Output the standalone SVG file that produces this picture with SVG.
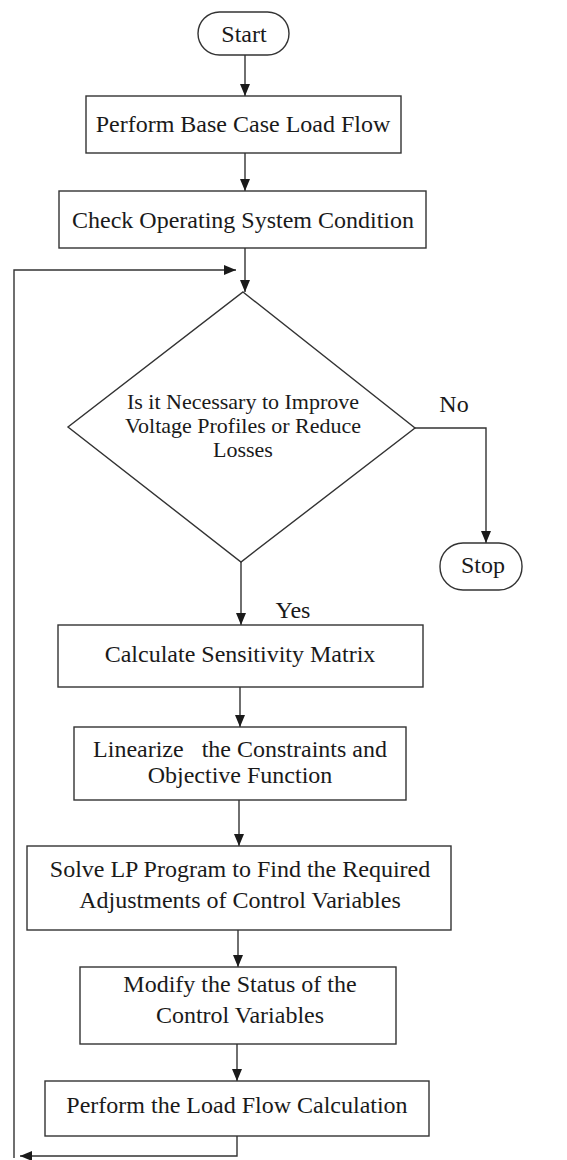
<svg xmlns="http://www.w3.org/2000/svg" width="567" height="1160" viewBox="0 0 567 1160">
<defs>
<style>
.n{fill:#fff;stroke:#333;stroke-width:1.4}
.t{font-family:"Liberation Serif","Times New Roman",serif;font-size:24px;fill:#1a1a1a;text-anchor:middle}
.d{font-size:22px}
.c{fill:none;stroke:#333;stroke-width:1.4}
</style>
<marker id="ah" viewBox="0 0 12 10" refX="12" refY="5" markerWidth="12" markerHeight="10" markerUnits="userSpaceOnUse" orient="auto">
<path d="M0,0 L12,5 L0,10 Z" fill="#1a1a1a"/>
</marker>
</defs>
<rect width="567" height="1160" fill="#fff"/>
<g id="connectors">
<path class="c" d="M245,55 V96" marker-end="url(#ah)"/>
<path class="c" d="M245,153 V191" marker-end="url(#ah)"/>
<path class="c" d="M245,248 V292" marker-end="url(#ah)"/>
<path class="c" d="M415,428 H486 V543" marker-end="url(#ah)"/>
<path class="c" d="M241,562 V625" marker-end="url(#ah)"/>
<path class="c" d="M240,687 V727" marker-end="url(#ah)"/>
<path class="c" d="M239,800 V846" marker-end="url(#ah)"/>
<path class="c" d="M238,930 V967" marker-end="url(#ah)"/>
<path class="c" d="M237,1044 V1081" marker-end="url(#ah)"/>
<path class="c" d="M237,1136 V1156 H20" marker-end="url(#ah)"/>
<path class="c" d="M14,1158 V270 H236" marker-end="url(#ah)"/>
<text class="t" x="454" y="412">No</text>
<text class="t" x="293" y="618">Yes</text>
</g>
<g id="start">
<rect class="n" x="198" y="12" width="91" height="43" rx="21.5"/>
<text class="t" x="244" y="42">Start</text>
</g>
<g id="base-load-flow">
<rect class="n" x="86" y="96" width="315" height="57"/>
<text class="t" x="243" y="132">Perform Base Case Load Flow</text>
</g>
<g id="check-condition">
<rect class="n" x="59" y="191" width="367" height="57"/>
<text class="t" x="243" y="228">Check Operating System Condition</text>
</g>
<g id="decision">
<polygon class="n" points="243,292 415,428 241,562 68,427"/>
<text class="t d" x="243" y="409">Is it Necessary to Improve</text>
<text class="t d" x="243" y="433">Voltage Profiles or Reduce</text>
<text class="t d" x="243" y="457">Losses</text>
</g>
<g id="stop">
<rect class="n" x="440" y="543" width="82" height="47" rx="23"/>
<text class="t" x="483" y="573">Stop</text>
</g>
<g id="sensitivity">
<rect class="n" x="58" y="625" width="365" height="62"/>
<text class="t" x="240" y="662">Calculate Sensitivity Matrix</text>
</g>
<g id="linearize">
<rect class="n" x="74" y="727" width="332" height="73"/>
<text class="t" x="240" y="757" xml:space="preserve">Linearize   the Constraints and</text>
<text class="t" x="240" y="783">Objective Function</text>
</g>
<g id="solve-lp">
<rect class="n" x="27" y="846" width="424" height="84"/>
<text class="t" x="240" y="877">Solve LP Program to Find the Required</text>
<text class="t" x="240" y="908">Adjustments of Control Variables</text>
</g>
<g id="modify">
<rect class="n" x="80" y="967" width="316" height="77"/>
<text class="t" x="240" y="992">Modify the Status of the</text>
<text class="t" x="240" y="1023">Control Variables</text>
</g>
<g id="load-flow">
<rect class="n" x="45" y="1081" width="384" height="55"/>
<text class="t" x="237" y="1113">Perform the Load Flow Calculation</text>
</g>
</svg>
